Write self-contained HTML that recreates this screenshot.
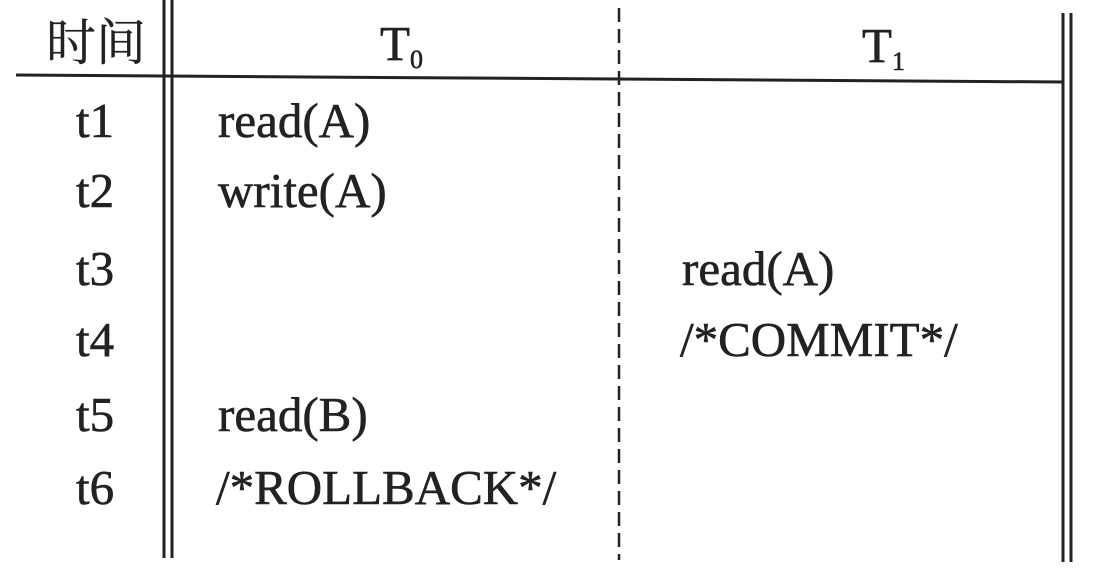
<!DOCTYPE html>
<html><head><meta charset="utf-8"><style>
body{margin:0;background:#fff;}
svg text{font-family:"Liberation Serif","Noto Serif CJK SC",serif;font-size:49px;fill:#222;stroke:#222;stroke-width:0.6;}
</style></head><body>
<svg width="1094" height="576" xmlns="http://www.w3.org/2000/svg">
<g stroke="#222" stroke-width="3" fill="none">
<line x1="164" y1="0" x2="164" y2="558"/>
<line x1="172" y1="0" x2="172" y2="558"/>
<line x1="1063" y1="13" x2="1063" y2="562"/>
<line x1="1071" y1="13" x2="1071" y2="562"/>
<line x1="16" y1="75" x2="1063" y2="82"/>
<line x1="619" y1="8" x2="619" y2="560" stroke-width="2.5" stroke-dasharray="14 7"/>
</g>
<text x="46" y="60" style="font-family:'Noto Serif CJK SC',serif;font-size:50px;stroke-width:0.3">时间</text>
<text x="380" y="60">T<tspan font-size="26" dy="8">0</tspan></text>
<text x="862" y="62">T<tspan font-size="26" dy="8">1</tspan></text>
<text x="76" y="137">t1</text>
<text x="76" y="207">t2</text>
<text x="76" y="285">t3</text>
<text x="76" y="356">t4</text>
<text x="76" y="431">t5</text>
<text x="76" y="504">t6</text>
<text x="218" y="137">read(A)</text>
<text x="218" y="207">write(A)</text>
<text x="682" y="285">read(A)</text>
<text x="680" y="356">/*COMMIT*/</text>
<text x="218" y="431">read(B)</text>
<text x="216" y="504">/*ROLLBACK*/</text>
</svg>
</body></html>
